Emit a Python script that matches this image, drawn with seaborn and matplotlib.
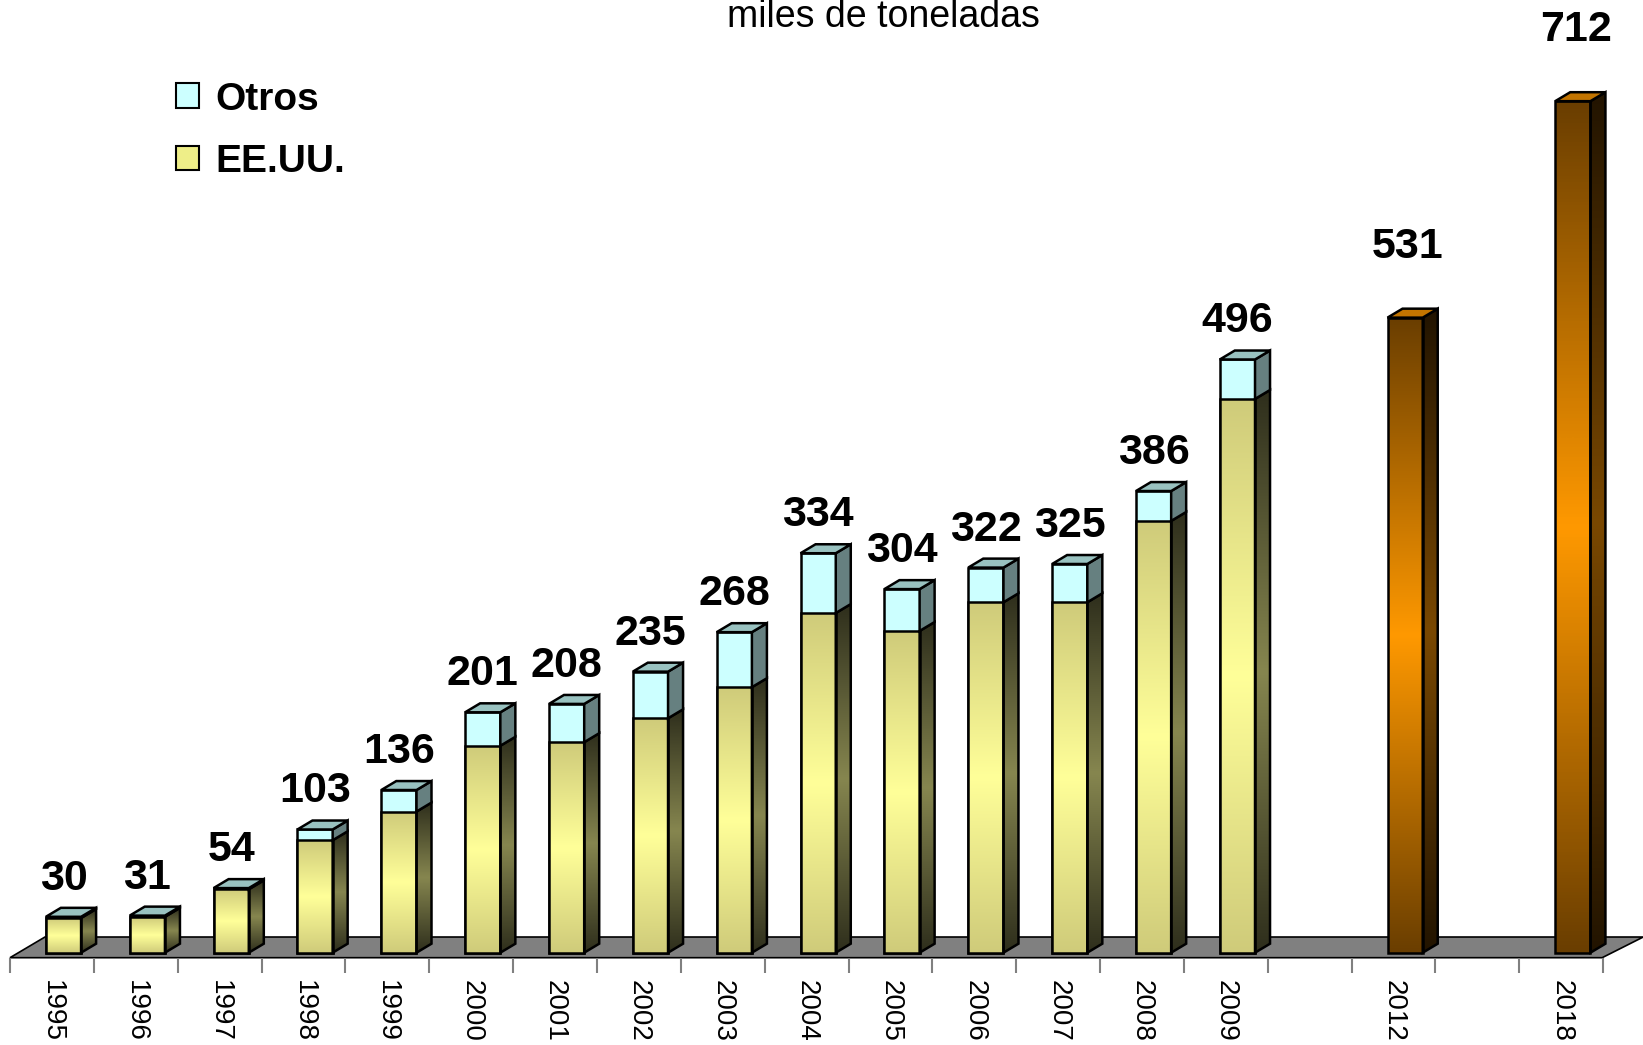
import numpy as np
import pandas as pd
import matplotlib
matplotlib.use('Agg')
import matplotlib.pyplot as plt
import seaborn as sns
from matplotlib.patches import Polygon, Patch
from matplotlib.colors import LinearSegmentedColormap

# datos (miles de toneladas)
years = ['1995', '1996', '1997', '1998', '1999', '2000', '2001', '2002',
         '2003', '2004', '2005', '2006', '2007', '2008', '2009']
totales = [30, 31, 54, 103, 136, 201, 208, 235, 268, 334, 304, 322, 325, 386, 496]
eeuu = [29, 30, 53, 94, 118, 173, 176, 196, 222, 284, 269, 293, 293, 361, 463]
proy_years = ['2012', '2018']
proy = [531, 712]
order = years + [' ', '2012', '  ', '2018']

sns.set_style('white')
plt.rcParams['font.family'] = ['Liberation Sans', 'DejaVu Sans']
plt.rcParams['text.color'] = 'black'

fig = plt.figure(figsize=(16.43, 10.45), dpi=100)
ax = fig.add_axes([0, 0, 1, 1])

df = pd.DataFrame({'anio': years, 'total': totales, 'eeuu': eeuu})
dfp = pd.DataFrame({'anio': proy_years, 'total': proy})

W = 0.42
kw = dict(order=order, width=W, edgecolor='black', linewidth=1.8,
          saturation=1, errorbar=None, ax=ax)
sns.barplot(data=df, x='anio', y='total', color='#ccffff', **kw)
sns.barplot(data=df, x='anio', y='eeuu', color='#ffff99', **kw)
sns.barplot(data=dfp, x='anio', y='total', color='#ff9900', **kw)

c_tot, c_us, c_proj = ax.containers[0], ax.containers[1], ax.containers[2]

DX, DY = 0.179, 7.5  # profundidad del efecto 3D


def cmap3(c_end, c_mid):
    return LinearSegmentedColormap.from_list('', [c_end, c_mid, c_end])


yel_front = cmap3('#cfcb7a', '#ffff99')
yel_side = cmap3('#2e2e1c', '#86864f')
ora_front = cmap3('#6a3e00', '#ff9900')
ora_side = cmap3('#221400', '#7a4800')
grad = np.linspace(0, 1, 256).reshape(-1, 1)


def fill_grad(patch, cmap, x0, x1, y0, y1, z):
    im = ax.imshow(grad, cmap=cmap, extent=[x0, x1, y0, y1], aspect='auto',
                   origin='lower', zorder=z, interpolation='bilinear')
    im.set_clip_path(patch)


def side(x1, y0, y1, fc, cmap=None):
    p = Polygon([(x1, y0), (x1 + DX, y0 + DY), (x1 + DX, y1 + DY), (x1, y1)],
                closed=True, fc=fc if cmap is None else 'none', ec='black',
                lw=1.8, zorder=4, transform=ax.transData)
    ax.add_patch(p)
    if cmap is not None:
        fill_grad(p, cmap, x1, x1 + DX, y0, y1 + DY, 3)


def top(x0, x1, y, fc):
    p = Polygon([(x0, y), (x1, y), (x1 + DX, y + DY), (x0 + DX, y + DY)],
                closed=True, fc=fc, ec='black', lw=1.8, zorder=4)
    ax.add_patch(p)


for pt, pu in zip(c_tot.patches, c_us.patches):
    x0 = pt.get_x()
    x1 = x0 + pt.get_width()
    t = pt.get_height()
    u = pu.get_height()
    pt.set_zorder(2)
    fill_grad(pu, yel_front, x0, x1, 0, u, 3)
    pu.set_facecolor('none')
    pu.set_zorder(4)
    side(x1, 0, u, None, yel_side)
    side(x1, u, t, '#668080')
    top(x0, x1, t, '#99c2c0')
    ax.annotate(f'{t:.0f}', xy=((x0 + x1) / 2, t), xytext=(0, 19.5),
                textcoords='offset points', ha='center', va='baseline',
                fontsize=31, fontweight='bold')

for pp in c_proj.patches:
    x0 = pp.get_x()
    x1 = x0 + pp.get_width()
    t = pp.get_height()
    fill_grad(pp, ora_front, x0, x1, 0, t, 3)
    pp.set_facecolor('none')
    pp.set_zorder(4)
    side(x1, 0, t, None, ora_side)
    top(x0, x1, t, '#c27400')
    ax.annotate(f'{t:.0f}', xy=((x0 + x1) / 2, t), xytext=(2, 43),
                textcoords='offset points', ha='center', va='baseline',
                fontsize=31, fontweight='bold')

# piso gris
floor = Polygon([(-0.638, -4.2), (18.35, -4.2), (18.84, 13.1), (-0.221, 13.1)],
                closed=True, fc='#808080', ec='black', lw=1.2, zorder=1)
ax.add_patch(floor)
ax.vlines(np.arange(20) - 0.638, -17, -4.2, color='#808080', lw=1.5, zorder=1)

for i, lab in enumerate(order):
    ax.text(i - 0.138, -22.5, lab.strip(), rotation=270, ha='center', va='top',
            fontsize=20)

handles = [Patch(fc='#ccffff', ec='black', lw=1.5, label='Otros'),
           Patch(fc='#eeee88', ec='black', lw=1.5, label='EE.UU.')]
ax.legend(handles=handles, loc='upper left', bbox_to_anchor=(0.107, 0.922),
          bbox_transform=fig.transFigure, frameon=False,
          prop={'size': 28, 'weight': 'bold'}, handlelength=0.6,
          handleheight=0.6, handletextpad=0.42, labelspacing=0.67,
          borderaxespad=0, borderpad=0)

fig.text(883 / 1643, 1 - 27 / 1045, 'miles de toneladas', ha='center',
         va='baseline', fontsize=27)

ax.set_xlim(-0.757, 18.837)
ax.set_ylim(-77.2, 796.6)
ax.axis('off')

fig.savefig('out.png', dpi=100)
